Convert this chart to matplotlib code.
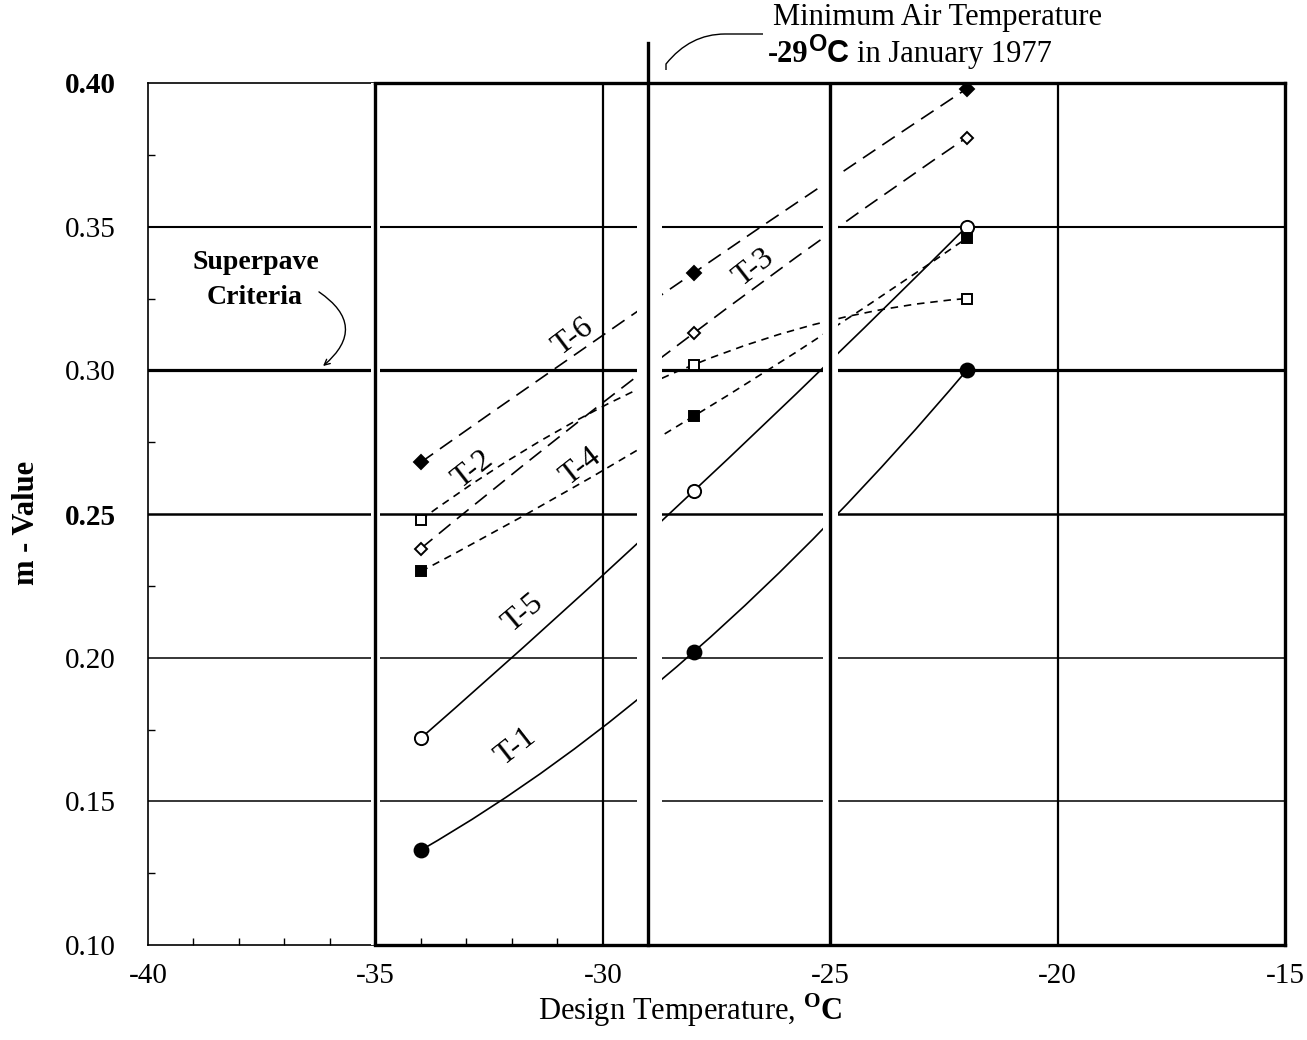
import matplotlib.pyplot as plt
from matplotlib.path import Path
from matplotlib.patches import PathPatch

plt.rcParams['font.family'] = ['Liberation Serif', 'DejaVu Serif']
plt.rcParams['mathtext.fontset'] = 'custom'
plt.rcParams['mathtext.rm'] = 'Liberation Serif'
plt.rcParams['mathtext.bf'] = 'Liberation Serif:bold'

# design temperatures (deg C) and m-values
temps = [-34, -28, -22]
t1 = [0.133, 0.202, 0.300]
t5 = [0.172, 0.258, 0.350]
t4 = [0.230, 0.284, 0.346]
t2 = [0.248, 0.302, 0.325]
t3 = [0.238, 0.313, 0.381]
t6 = [0.268, 0.334, 0.398]

x_ticks = [-40, -35, -30, -25, -20, -15]
y_ticks = [0.10, 0.15, 0.20, 0.25, 0.30, 0.35, 0.40]
criterion = 0.30
min_air_temp = -29

solid = '-'
long_dash = (0, (9, 5))
short_dash = (0, (4.5, 3.5))

# name, values, line style, marker, filled, marker size, label pos, label angle
series = [
    ('T-1', t1, solid, 'o', True, 10, (-31.92, 0.169), 38),
    ('T-5', t5, solid, 'o', False, 9.5, (-31.76, 0.2156), 40),
    ('T-4', t4, short_dash, 's', True, 6.5, (-30.48, 0.2664), 38),
    ('T-2', t2, short_dash, 's', False, 6.5, (-32.86, 0.2653), 38),
    ('T-3', t3, long_dash, 'D', False, 6.0, (-26.67, 0.3356), 38),
    ('T-6', t6, long_dash, 'D', True, 7.5, (-30.66, 0.3116), 37),
]


def smooth(ax, x, y, ls):
    # quadratic bezier passing through the three points
    cx = 2 * x[1] - (x[0] + x[2]) / 2
    cy = 2 * y[1] - (y[0] + y[2]) / 2
    path = Path([(x[0], y[0]), (cx, cy), (x[2], y[2])],
                [Path.MOVETO, Path.CURVE3, Path.CURVE3])
    ax.add_patch(PathPatch(path, fill=False, lw=1.2, ls=ls, ec='k', zorder=2))


fig = plt.figure(figsize=(13.07, 10.40), dpi=100)
ax = fig.add_axes([0.1132, 0.0913, 0.8700, 0.8289])
ax.set_xlim(-40, -15)
ax.set_ylim(0.10, 0.40)

# horizontal grid
for y, lw in [(0.15, 1.1), (0.20, 1.1), (0.25, 1.8), (0.35, 1.5)]:
    ax.axhline(y, color='k', lw=lw, zorder=1)
ax.axhline(criterion, color='k', lw=2.3, zorder=1)

for name, vals, ls, mk, filled, ms, pos, ang in series:
    smooth(ax, temps, vals, ls)
    ax.plot(temps, vals, ls='none', marker=mk, ms=ms, mec='k',
            mfc='k' if filled else 'white', mew=1.4, zorder=6)
    ax.text(pos[0], pos[1], name, fontsize=23, rotation=ang,
            ha='center', va='center', rotation_mode='anchor', zorder=7)

# breaks in the lines next to the heavy verticals
for a, b in [(-35.1, -34.9), (-29.25, -28.70), (-25.15, -24.82)]:
    ax.axvspan(a, b, color='white', lw=0, zorder=3)

# verticals
ax.axvline(-35, color='k', lw=2.4, zorder=4)
ax.axvline(-30, color='k', lw=1.6, zorder=4)
ax.axvline(-25, color='k', lw=2.4, zorder=4)
ax.axvline(-20, color='k', lw=1.6, zorder=4)
ax.axvline(min_air_temp, ymax=1.046, color='k', lw=2.4, zorder=4, clip_on=False)

# frame: thin on the left panel, heavy from -35 on
for s in ['left', 'bottom', 'top']:
    ax.spines[s].set_linewidth(1.2)
ax.spines['right'].set_linewidth(2.4)
ax.axhline(0.40, xmin=0.2, xmax=1, color='k', lw=2.4, zorder=4, clip_on=False)
ax.axhline(0.10, xmin=0.2, xmax=1, color='k', lw=2.4, zorder=4, clip_on=False)

ax.set_xticks(x_ticks)
ax.set_xticklabels([str(v) for v in x_ticks])
ax.set_yticks(y_ticks)
ax.set_yticklabels(['%.2f' % v for v in y_ticks])
ax.set_xticks([-39, -38, -37, -36, -34, -33, -32, -31], minor=True)
ax.set_yticks([0.125, 0.175, 0.225, 0.275, 0.325, 0.375], minor=True)
ax.tick_params(which='major', length=0, labelsize=21)
ax.tick_params(axis='y', which='major', pad=23)
ax.tick_params(axis='x', which='major', pad=13)
ax.tick_params(which='minor', direction='in', length=5, width=1)
for lab in ax.get_yticklabels():
    if lab.get_text() in ('0.40', '0.25'):
        lab.set_fontweight('bold')

fig.text(0.020, 0.497, 'm - Value', rotation=90, fontsize=22,
         fontweight='bold', ha='center', va='center')
fig.text(0.528, 0.029, r'Design Temperature, $^{\mathbf{O}}\mathbf{C}$',
         fontsize=22, ha='center', va='center')

# Superpave criterion note
ax.text(-37.62, 0.3374, 'Superpave', fontsize=20, fontweight='bold',
        ha='center', va='center')
ax.text(-37.65, 0.3252, 'Criteria', fontsize=20, fontweight='bold',
        ha='center', va='center')
ax.annotate('', xy=(-36.15, 0.3015), xytext=(-36.24, 0.3273),
            arrowprops=dict(arrowstyle='->', connectionstyle='arc3,rad=-0.65',
                            lw=1.0, color='k', shrinkA=0, shrinkB=0))

# minimum air temperature note
fig.text(0.5914, 0.9827, 'Minimum Air Temperature', fontsize=22, va='center')
a1 = fig.text(0.5876, 0.934, '-29', fontsize=22, fontweight='bold', va='bottom')
a2 = ax.annotate('O', xy=(1, 0.45), xycoords=a1, fontsize=17,
                 fontweight='bold', family='Liberation Sans', va='bottom',
                 annotation_clip=False)
a3 = ax.annotate('C', xy=(1, 0), xycoords=(a2, a1), fontsize=22,
                 fontweight='bold', family='Liberation Sans', va='bottom',
                 annotation_clip=False)
ax.annotate('in January 1977', xy=(1, 0), xycoords=(a3, a1), xytext=(6, 0),
            textcoords='offset points', fontsize=22, va='bottom',
            annotation_clip=False)

W, H = 1307.0, 1040.0
pts = [(666, 70), (666, 64), (690, 34), (725, 34), (763, 34)]
lead = Path([(px / W, 1 - py / H) for px, py in pts],
            [Path.MOVETO, Path.LINETO, Path.CURVE3, Path.CURVE3, Path.LINETO])
fig.add_artist(PathPatch(lead, fill=False, lw=1.0, ec='k',
                         transform=fig.transFigure))

fig.savefig('out.png', dpi=100)
